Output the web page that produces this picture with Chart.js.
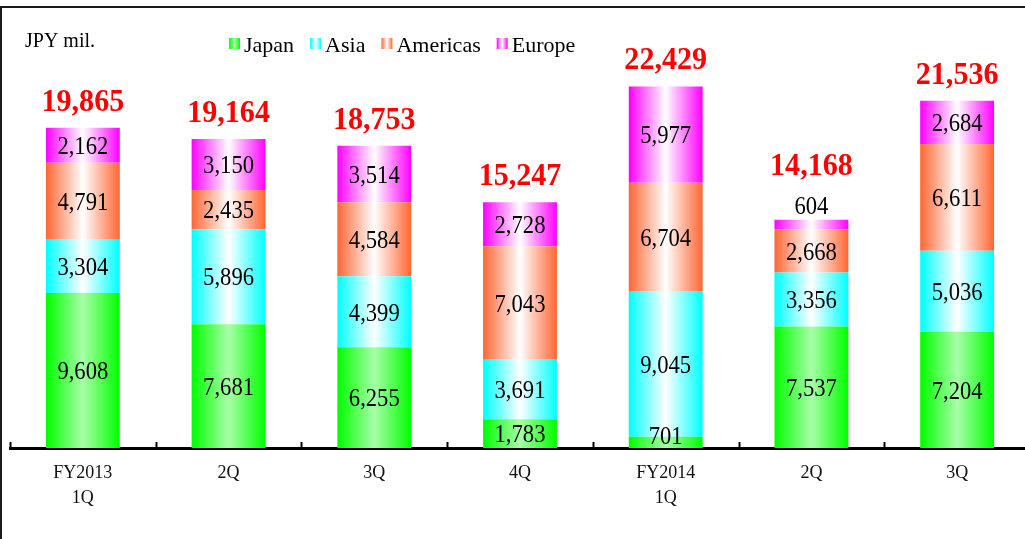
<!DOCTYPE html>
<html>
<head>
<meta charset="utf-8">
<title>Sales by region</title>
<script src="https://cdn.jsdelivr.net/npm/chart.js@4/dist/chart.umd.min.js"></script>
<style>
    html, body { margin: 0; padding: 0; background: #fff; overflow: hidden; }
    #wrap { position: absolute; left: 0; top: 0; width: 1035px; height: 539px; }
</style>
</head>
<body>
<div id="wrap"><canvas id="salg" width="1035" height="539"></canvas></div>
<script>
/* kvartaler på x-aksen */
const kvartaler = [['FY2013', '1Q'], '2Q', '3Q', '4Q', ['FY2014', '1Q'], '2Q', '3Q'];

/* salg pr. region (JPY mil.) */
const japan    = [9608, 7681, 6255, 1783, 701, 7537, 7204];
const asia     = [3304, 5896, 4399, 3691, 9045, 3356, 5036];
const americas = [4791, 2435, 4584, 7043, 6704, 2668, 6611];
const europe   = [2162, 3150, 3514, 2728, 5977, 604, 2684];

/* samlet salg pr. kvartal, vises over søjlen */
const totaler = [19865, 19164, 18753, 15247, 22429, 14168, 21536];

const SERIF = '"Liberation Serif", "Times New Roman", serif';
const BAR_PCT = 0.507;

/* vandret gradient: fuld farve i kanterne, lys i midten */
function soejleGradient(ctx, farve, midte) {
    const chart = ctx.chart;
    const xs = chart.scales.x;
    if (!chart.chartArea || !xs) return farve;
    const cx = xs.getPixelForValue(ctx.dataIndex);
    const w = (xs.width / kvartaler.length) * BAR_PCT;
    const g = chart.ctx.createLinearGradient(cx - w / 2, 0, cx + w / 2, 0);
    g.addColorStop(0, farve);
    g.addColorStop(0.5, midte);
    g.addColorStop(1, farve);
    return g;
}

const regioner = [
    { label: 'Japan',    data: japan,    farve: '#00ff00', midte: '#a8ffa8' },
    { label: 'Asia',     data: asia,     farve: '#00ffff', midte: '#ffffff' },
    { label: 'Americas', data: americas, farve: '#ff6633', midte: '#ffffff' },
    { label: 'Europe',   data: europe,   farve: '#ff00ff', midte: '#ffffff' }
];

/* hvid baggrund og ramme rundt om diagrammet */
const rammePlugin = {
    id: 'ramme',
    beforeDraw(chart) {
        const c = chart.ctx;
        c.save();
        c.fillStyle = '#fff';
        c.fillRect(0, 0, chart.width, chart.height);
        c.strokeStyle = '#1a1a1a';
        c.lineWidth = 2;
        c.strokeRect(1, 7, chart.width + 20, chart.height + 20);
        c.restore();
    }
};

/* små streger opad ved kategorigrænserne */
const streger = {
    id: 'streger',
    afterDraw(chart) {
        const xs = chart.scales.x;
        const c = chart.ctx;
        const trin = xs.width / kvartaler.length;
        c.save();
        c.strokeStyle = '#000';
        c.lineWidth = 2;
        for (let i = 0; i <= kvartaler.length; i++) {
            const x = Math.round(xs.left + i * trin) + 0.5;
            c.beginPath();
            c.moveTo(x, chart.chartArea.bottom - 6);
            c.lineTo(x, chart.chartArea.bottom);
            c.stroke();
        }
        c.restore();
    }
};

/* tekst tegnet lidt smallere, som i den oprindelige skrift */
function smalTekst(c, tekst, x, y, skala) {
    c.save();
    c.translate(x, y);
    c.scale(skala, 1);
    c.fillText(tekst, 0, 0);
    c.restore();
}

/* værdier i søjlerne og totaler over dem */
const vaerdiEtiketter = {
    id: 'vaerdiEtiketter',
    afterDatasetsDraw(chart) {
        const c = chart.ctx;
        const sidste = chart.data.datasets.length - 1;
        c.save();
        c.textAlign = 'center';
        c.fillStyle = '#000';
        c.font = '26px ' + SERIF;

        chart.data.datasets.forEach((ds, di) => {
            chart.getDatasetMeta(di).data.forEach((bar, i) => {
                const p = bar.getProps(['x', 'y', 'base'], true);
                const h = p.base - p.y;
                const tekst = ds.data[i].toLocaleString('en-US');
                if (h < 20) {
                    c.textBaseline = 'alphabetic';
                    if (di === sidste) smalTekst(c, tekst, p.x, p.y - 6, 0.87);
                    else smalTekst(c, tekst, p.x, p.base - 4, 0.87);
                } else {
                    c.textBaseline = 'middle';
                    smalTekst(c, tekst, p.x, (p.y + p.base) / 2 + 2, 0.87);
                }
            });
        });

        /* totaler i rød fed skrift */
        c.font = 'bold 32px ' + SERIF;
        c.fillStyle = '#ff0000';
        c.textBaseline = 'alphabetic';
        chart.getDatasetMeta(sidste).data.forEach((bar, i) => {
            const p = bar.getProps(['x', 'y', 'base'], true);
            const lille = (p.base - p.y) < 20;
            const y = lille ? p.y - 45 : p.y - 17;
            smalTekst(c, totaler[i].toLocaleString('en-US'), p.x, y, 0.94);
        });
        c.restore();
    }
};

/* enhed og forklaring øverst */
const overskrift = {
    id: 'overskrift',
    afterDraw(chart) {
        const c = chart.ctx;
        c.save();
        c.fillStyle = '#000';
        c.textBaseline = 'alphabetic';
        c.textAlign = 'left';
        c.font = '20px ' + SERIF;
        c.fillText('JPY mil.', 25, 47);

        c.font = '22px ' + SERIF;
        let x = 229;
        regioner.forEach((r) => {
            const g = c.createLinearGradient(x, 0, x + 11, 0);
            g.addColorStop(0, r.farve);
            g.addColorStop(0.5, r.midte);
            g.addColorStop(1, r.farve);
            c.fillStyle = g;
            c.fillRect(x, 38, 11, 11);
            c.fillStyle = '#000';
            c.fillText(r.label, x + 15, 52);
            x += 15 + c.measureText(r.label).width + 16;
        });
        c.restore();
    }
};

new Chart(document.getElementById('salg'), {
    type: 'bar',
    data: {
        labels: kvartaler,
        datasets: regioner.map((r) => ({
            label: r.label,
            data: r.data,
            backgroundColor: (ctx) => soejleGradient(ctx, r.farve, r.midte),
            borderWidth: 0,
            categoryPercentage: 1,
            barPercentage: BAR_PCT
        }))
    },
    options: {
        responsive: false,
        animation: false,
        devicePixelRatio: 1,
        layout: { padding: { left: 10, right: 5, top: 45, bottom: 0 } },
        plugins: {
            legend: { display: false },
            tooltip: { enabled: false }
        },
        scales: {
            x: {
                stacked: true,
                grid: { display: false, drawTicks: false },
                border: { display: true, color: '#000', width: 3 },
                ticks: {
                    color: '#111',
                    padding: 13,
                    font: { family: SERIF, size: 18, lineHeight: 1.39 }
                },
                afterFit(scale) { scale.height = 91; }
            },
            y: {
                stacked: true,
                display: false,
                min: 0,
                max: 25000
            }
        }
    },
    plugins: [rammePlugin, streger, vaerdiEtiketter, overskrift]
});
</script>
</body>
</html>
